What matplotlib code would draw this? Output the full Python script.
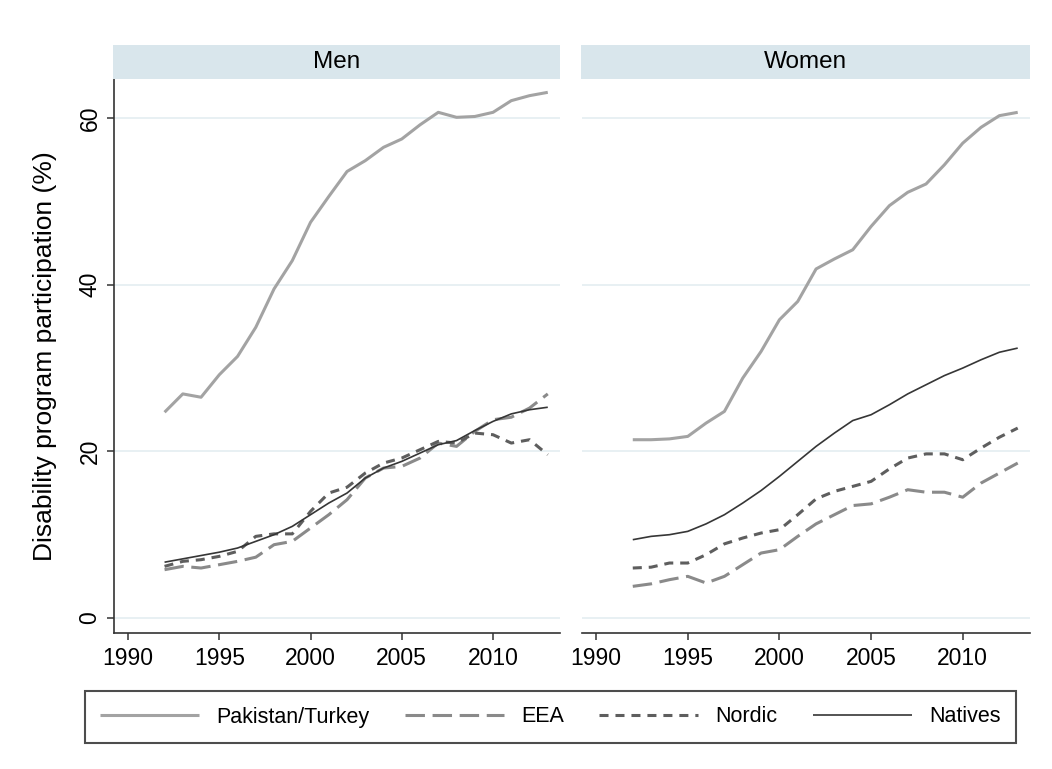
import matplotlib
matplotlib.use("Agg")
import matplotlib.pyplot as plt

plt.rcParams["font.family"] = ["Liberation Sans", "DejaVu Sans"]
plt.rcParams["lines.scale_dashes"] = False

YEARS = list(range(1992, 2014))
PANELS = ["Men", "Women"]
GROUPS = ["Pakistan/Turkey", "EEA", "Nordic", "Natives"]

MEN_PAK = [24.7, 26.9, 26.5, 29.2, 31.4, 34.9, 39.5, 42.9, 47.5, 50.6, 53.6,
           54.9, 56.5, 57.5, 59.2, 60.7, 60.1, 60.2, 60.7, 62.1, 62.7, 63.1]
MEN_EEA = [5.8, 6.2, 6.0, 6.4, 6.8, 7.3, 8.8, 9.2, 10.8, 12.4, 14.2,
           16.8, 18.0, 18.2, 19.2, 21.0, 20.6, 22.4, 23.8, 24.1, 25.2, 26.9]
MEN_NOR = [6.2, 6.8, 7.0, 7.4, 8.0, 9.8, 10.1, 10.1, 12.8, 15.0, 15.7,
           17.4, 18.6, 19.2, 20.2, 21.2, 21.0, 22.2, 22.0, 21.0, 21.4, 19.6]
MEN_NAT = [6.7, 7.1, 7.5, 7.9, 8.4, 9.2, 10.0, 11.0, 12.4, 13.8, 15.0,
           16.8, 18.0, 18.8, 19.8, 20.8, 21.3, 22.5, 23.6, 24.5, 25.0, 25.3]

WOMEN_PAK = [21.4, 21.4, 21.5, 21.8, 23.4, 24.8, 28.8, 32.0, 35.8, 38.0, 41.9,
             43.1, 44.2, 47.0, 49.5, 51.1, 52.1, 54.4, 57.0, 58.9, 60.3, 60.7]
WOMEN_EEA = [3.8, 4.1, 4.6, 5.0, 4.2, 5.0, 6.4, 7.8, 8.2, 9.8, 11.3,
             12.4, 13.5, 13.7, 14.5, 15.4, 15.1, 15.1, 14.5, 16.2, 17.4, 18.6]
WOMEN_NOR = [6.0, 6.1, 6.6, 6.6, 7.6, 8.9, 9.6, 10.2, 10.6, 12.4, 14.3,
             15.2, 15.8, 16.4, 17.9, 19.2, 19.7, 19.7, 19.0, 20.4, 21.7, 22.8]
WOMEN_NAT = [9.4, 9.8, 10.0, 10.4, 11.3, 12.4, 13.8, 15.3, 17.0, 18.8, 20.6,
             22.2, 23.7, 24.4, 25.6, 26.9, 28.0, 29.1, 30.0, 31.0, 31.9, 32.4]

XTICKS = [1990, 1995, 2000, 2005, 2010]
YTICKS = [0, 20, 40, 60]

SERIES = {"Men": [MEN_PAK, MEN_EEA, MEN_NOR, MEN_NAT],
          "Women": [WOMEN_PAK, WOMEN_EEA, WOMEN_NOR, WOMEN_NAT]}

# line styles per group
STYLES = [dict(color="#a3a3a3", lw=2.2, ls="-"),
          dict(color="#8a8a8a", lw=2.2, dashes=(14, 5.5)),
          dict(color="#5e5e5e", lw=2.2, dashes=(6.5, 5)),
          dict(color="#363636", lw=1.2, ls="-")]

W, H = 1052, 769
fig = plt.figure(figsize=(W / 100, H / 100), dpi=100)


def rect(x0, y0, x1, y1):
    return [x0 / W, 1 - y1 / H, (x1 - x0) / W, (y1 - y0) / H]


panel_px = {"Men": (114, 560), "Women": (582, 1030)}
handles = []
for name in PANELS:
    x0, x1 = panel_px[name]
    ax = fig.add_axes(rect(x0, 79, x1, 633))
    for vals, st in zip(SERIES[name], STYLES):
        ln, = ax.plot(YEARS, vals, solid_capstyle="butt", dash_capstyle="butt", **st)
        if name == "Men":
            handles.append(ln)
    ax.set_xlim(1989.23, 2013.67)
    ax.set_ylim(-1.8, 64.7)
    ax.set_xticks(XTICKS)
    ax.set_yticks(YTICKS)
    ax.grid(axis="y", color="#e6eff2", lw=1.3)
    ax.set_axisbelow(True)
    for s in ["top", "right"]:
        ax.spines[s].set_visible(False)
    ax.spines["bottom"].set_color("#333333")
    ax.spines["bottom"].set_linewidth(1.2)
    ax.spines["left"].set_color("#333333")
    ax.spines["left"].set_linewidth(1.2)
    ax.tick_params(axis="x", length=5, width=1.1, color="#333333", labelsize=16.5, pad=5)
    if name == "Men":
        ax.tick_params(axis="y", length=5, width=1.1, color="#333333", labelsize=16.5, pad=4)
        for lab in ax.get_yticklabels():
            lab.set_rotation(90)
            lab.set_va("center")
    else:
        ax.spines["left"].set_visible(False)
        ax.tick_params(axis="y", left=False, labelleft=False)

    sx = fig.add_axes(rect(x0 - 1, 45, x1, 79))
    sx.set_facecolor("#d9e6ec")
    sx.set_xticks([]); sx.set_yticks([])
    for s in sx.spines.values():
        s.set_visible(False)
    sx.text(0.5, 0.5, name, ha="center", va="center", fontsize=17.5, transform=sx.transAxes)

fig.text(45 / W, 1 - 356 / H, "Disability program participation (%)", rotation=90,
         ha="center", va="center", fontsize=19)

leg = fig.legend(handles, GROUPS, loc="center", ncol=4,
                 bbox_to_anchor=(550.5 / W, 1 - 717 / H), borderaxespad=0,
                 fontsize=15.5, handlelength=4.6, handletextpad=0.8,
                 columnspacing=1.65, borderpad=0.7,
                 fancybox=False, framealpha=1, edgecolor="#4d4d4d")
leg.get_frame().set_linewidth(1.5)

fig.savefig("out.png", dpi=100)
